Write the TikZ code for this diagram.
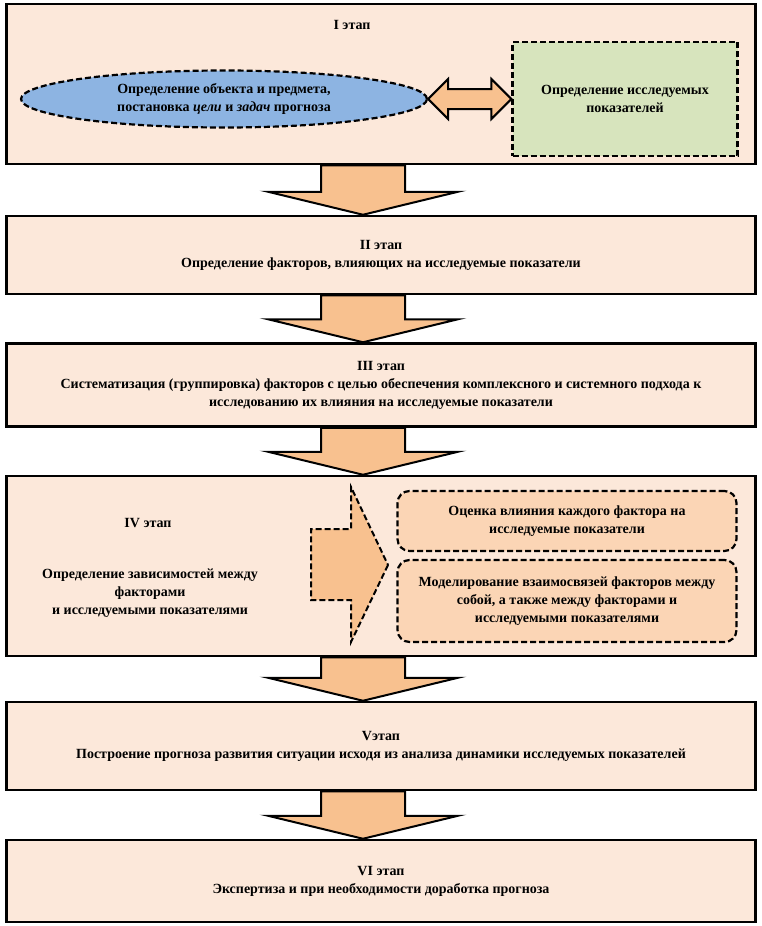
\documentclass[tikz,border=0pt]{standalone}
\usepackage{fontspec}
\setmainfont{Liberation Serif}
\usetikzlibrary{shapes.geometric,calc}

\definecolor{stagefill}{RGB}{252,232,218}
\definecolor{arrowfill}{RGB}{248,193,143}
\definecolor{goalfill}{RGB}{141,180,226}
\definecolor{indfill}{RGB}{215,228,189}
\definecolor{subfill}{RGB}{251,213,181}

\newcommand{\stagearrow}[2]{%
	\draw[stagearr] ($(#1.south -| ax)+(-42,0)$) -- ($(#1.south -| ax)+(42,0)$)
		-- ($(#2.north -| ax)+(42,-23)$) -- ($(#2.north -| ax)+(95,-23)$)
		-- (#2.north -| ax) -- ($(#2.north -| ax)+(-95,-23)$)
		-- ($(#2.north -| ax)+(-42,-23)$) -- cycle;}

\begin{document}
\begin{tikzpicture}[x=1pt,y=-1pt,
	txt/.style={font=\bfseries\fontsize{14}{18}\selectfont, align=center},
	stage/.style={draw, line width=2.5pt, fill=stagefill, minimum width=749pt, txt},
	dashbox/.style={draw, line width=2.2pt, dash pattern=on 6pt off 3pt, txt},
	stagearr/.style={draw, line width=2pt, fill=arrowfill}]

	\useasboundingbox (0,0) rectangle (762,926);
	\coordinate (ax) at (363,0);

	% stages
	\node[stage, minimum height=160pt] (st1) at (381,84) {};
	\node[stage, minimum height=78pt] (st2) at (381,255) {II этап\\Определение факторов, влияющих на исследуемые показатели};
	\node[stage, minimum height=83pt] (st3) at (381,385) {III этап\\Систематизация (группировка) факторов с целью обеспечения комплексного и системного подхода к\\исследованию их влияния на исследуемые показатели};
	\node[stage, minimum height=180pt] (st4) at (381,566) {};
	\node[stage, minimum height=88pt] (st5) at (381,746) {Vэтап\\Построение прогноза развития ситуации исходя из анализа динамики исследуемых показателей};
	\node[stage, minimum height=82pt] (st6) at (381,881) {VI этап\\Экспертиза и при необходимости доработка прогноза};

	% stage I
	\node[txt] (t1) at (352,25) {I этап};
	\node[dashbox, ellipse, fill=goalfill, minimum width=406pt, minimum height=57pt, inner sep=0pt] (goal) at (224,99)
		{Определение объекта и предмета,\\постановка \textit{цели} и \textit{задач} прогноза};
	\node[dashbox, fill=indfill, minimum width=225pt, minimum height=114pt] (ind) at (625,99)
		{Определение исследуемых\\показателей};
	\draw[stagearr] (goal.east) -- ++(20,-20) -- ++(0,10) -- ($(ind.west)+(-20,-10)$) -- ++(0,-10)
		-- (ind.west) -- ++(-20,20) -- ++(0,-10) -- ($(goal.east)+(20,10)$) -- ++(0,10) -- cycle;

	% stage IV
	\node[txt] (t4) at (148,523) {IV этап};
	\node[txt] (d4) at (150,593) {Определение зависимостей между\\факторами\\и исследуемыми показателями};
	\node[dashbox, rounded corners=12pt, fill=subfill, minimum width=339pt, minimum height=60pt] (sub1) at (567,521)
		{Оценка влияния каждого фактора на\\исследуемые показатели};
	\node[dashbox, rounded corners=12pt, fill=subfill, minimum width=339pt, minimum height=82pt] (sub2) at (567,601)
		{Моделирование взаимосвязей факторов между\\собой, а также между факторами и\\исследуемыми показателями};
	\coordinate (tip) at (388,565);
	\draw[stagearr, line width=2pt, dash pattern=on 6pt off 3pt] (tip) -- (351,642) -- (351,600) -- (311,600)
		-- (311,529) -- (351,529) -- (351,487) -- cycle;

	% arrows
	\stagearrow{st1}{st2}
	\stagearrow{st2}{st3}
	\stagearrow{st3}{st4}
	\stagearrow{st4}{st5}
	\stagearrow{st5}{st6}

\end{tikzpicture}
\end{document}
